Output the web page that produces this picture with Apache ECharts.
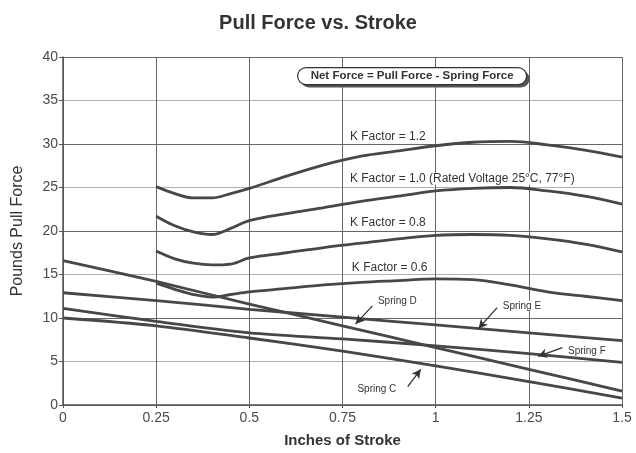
<!DOCTYPE html>
<html>
<head>
<meta charset="utf-8">
<script src="https://cdn.jsdelivr.net/npm/echarts@6/dist/echarts.min.js"></script>
<style>html,body{margin:0;padding:0;background:#fff}#c{width:636px;height:453px}</style>
</head>
<body>
<div id="c"></div>
<script>
// ---- data ----
const xTicks = [0, 0.25, 0.5, 0.75, 1, 1.25, 1.5];
const kStroke = [0.25, 0.3, 0.35, 0.4, 0.45, 0.5, 0.6, 0.7, 0.8, 0.9, 1.0, 1.1, 1.2, 1.3, 1.4, 1.5];
const k12 = [25.1, 24.3, 23.8, 23.8, 24.3, 24.9, 26.3, 27.6, 28.6, 29.2, 29.8, 30.2, 30.3, 29.9, 29.3, 28.5];
const k10 = [21.7, 20.6, 19.9, 19.6, 20.3, 21.2, 22.0, 22.7, 23.4, 24.0, 24.6, 24.9, 25.0, 24.6, 24.0, 23.1];
const k08 = [17.7, 16.8, 16.3, 16.1, 16.2, 16.9, 17.5, 18.1, 18.6, 19.1, 19.5, 19.6, 19.5, 19.1, 18.5, 17.6];
const k06 = [14.0, 13.3, 12.7, 12.4, 12.7, 13.0, 13.4, 13.8, 14.1, 14.3, 14.5, 14.4, 13.8, 13.0, 12.5, 12.0];
const springStroke = [0, 0.25, 0.5, 0.75, 1.0, 1.25, 1.5];
const springD = [16.6, 14.2, 11.6, 9.1, 6.6, 4.1, 1.6];
const springE = [12.9, 12.0, 11.0, 10.1, 9.2, 8.3, 7.4];
const springF = [11.1, 9.6, 8.3, 7.6, 6.8, 5.9, 4.9];
const springC = [10.0, 9.1, 7.7, 6.2, 4.5, 2.7, 0.8];
const kLabels = [
  {text: 'K Factor = 1.2', x: 0.77, y: 30.8},
  {text: 'K Factor = 1.0 (Rated Voltage 25°C, 77°F)', x: 0.77, y: 26.0},
  {text: 'K Factor = 0.8', x: 0.77, y: 20.9},
  {text: 'K Factor = 0.6', x: 0.775, y: 15.8}
];
const springLabels = [
  {text: 'Spring D', x: 0.845, y: 11.9, from: [0.83, 11.4], to: [0.785, 9.3]},
  {text: 'Spring E', x: 1.18, y: 11.4, from: [1.165, 11.2], to: [1.115, 8.8]},
  {text: 'Spring F', x: 1.355, y: 6.2, from: [1.34, 6.6], to: [1.275, 5.6]},
  {text: 'Spring C', x: 0.79, y: 1.8, from: [0.925, 2.1], to: [0.96, 4.1]}
];
const noteText = 'Net Force = Pull Force - Spring Force';

const chart = echarts.init(document.getElementById('c'));
const lineCol = '#474747';
const font = 'Liberation Sans, Arial, sans-serif';
function pairs(xs, ys){ return xs.map((x,i)=>[x, ys[i]]); }
function curve(name, xs, ys, smooth){
  return {name, type:'line', data: pairs(xs, ys), showSymbol:false, smooth: smooth,
    lineStyle:{color: lineCol, width: 2.8}, z: 3};
}
const series = [
  curve('K1.2', kStroke, k12, 0.35),
  curve('K1.0', kStroke, k10, 0.35),
  curve('K0.8', kStroke, k08, 0.35),
  curve('K0.6', kStroke, k06, 0.35),
  curve('Spring D', springStroke, springD, 0.2),
  curve('Spring E', springStroke, springE, 0.2),
  curve('Spring F', springStroke, springF, 0.3),
  curve('Spring C', springStroke, springC, 0.3)
];
series.push({
  type:'line', data: [], silent:true,
  markLine: {silent:true, symbol:['none','arrow'], symbolSize:[7,9],
    lineStyle:{color:'#333', width:1.3, type:'solid'}, label:{show:false},
    data: springLabels.map(s => [{coord: s.from}, {coord: s.to}])}
});

chart.setOption({
  animation:false,
  backgroundColor:'#fff',
  title:{text:'Pull Force vs. Stroke', left:'center', top:8,
    textStyle:{fontFamily:font, fontSize:20, fontWeight:'bold', color:'#333'}},
  grid:{left:63, right:14, top:57, bottom:45},
  xAxis:{type:'value', min:0, max:1.5, interval:0.25,
    name:'Inches of Stroke', nameLocation:'middle', nameGap:28,
    nameTextStyle:{fontFamily:font, fontSize:15, fontWeight:'bold', color:'#333'},
    axisLine:{lineStyle:{color:'#555', width:1.5}},
    axisTick:{show:true, length:3, lineStyle:{color:'#555'}},
    axisLabel:{fontFamily:font, fontSize:14, color:'#4a4a4a', margin:6},
    splitLine:{show:true, lineStyle:{color:'#666', width:1}}},
  yAxis:{type:'value', min:0, max:40, interval:5,
    name:'Pounds Pull Force', nameLocation:'middle', nameGap:37,
    nameTextStyle:{fontFamily:font, fontSize:16, color:'#333'},
    axisLine:{show:true, lineStyle:{color:'#555', width:1.5}},
    axisTick:{show:true, length:4, lineStyle:{color:'#555'}},
    axisLabel:{fontFamily:font, fontSize:14, color:'#4a4a4a', margin:5},
    splitLine:{show:true, lineStyle:{color:['#666','#b0b0b0'], width:1}}},
  series
});

function px(x,y){ return chart.convertToPixel({gridIndex:0}, [x,y]); }
const graphics = [];
kLabels.forEach(l => {
  const p = px(l.x, l.y);
  graphics.push({type:'text', x:p[0], y:p[1], z:10,
    style:{text:l.text, fontFamily:font, fontSize:12, fill:'#333', verticalAlign:'middle',
      backgroundColor:'#fff'}});
});
springLabels.forEach(l => {
  const p = px(l.x, l.y);
  graphics.push({type:'text', x:p[0], y:p[1], z:10,
    style:{text:l.text, fontFamily:font, fontSize:10, fill:'#333', verticalAlign:'middle',
      backgroundColor:'#fff'}});
});
// note box
graphics.push({type:'group', left:297, top:67, z:20, children:[
  {type:'rect', shape:{x:3, y:3, width:229, height:17, r:8.5}, style:{fill:'#555'}},
  {type:'rect', shape:{x:0, y:0, width:229, height:17, r:8.5}, style:{fill:'#fff', stroke:'#333', lineWidth:1.2}},
  {type:'text', x:114.5, y:8.5, style:{text:noteText, fontFamily:font, fontSize:11.5, fontWeight:'bold',
    fill:'#333', align:'center', verticalAlign:'middle'}}
]});
chart.setOption({graphic: graphics});
</script>
</body>
</html>
